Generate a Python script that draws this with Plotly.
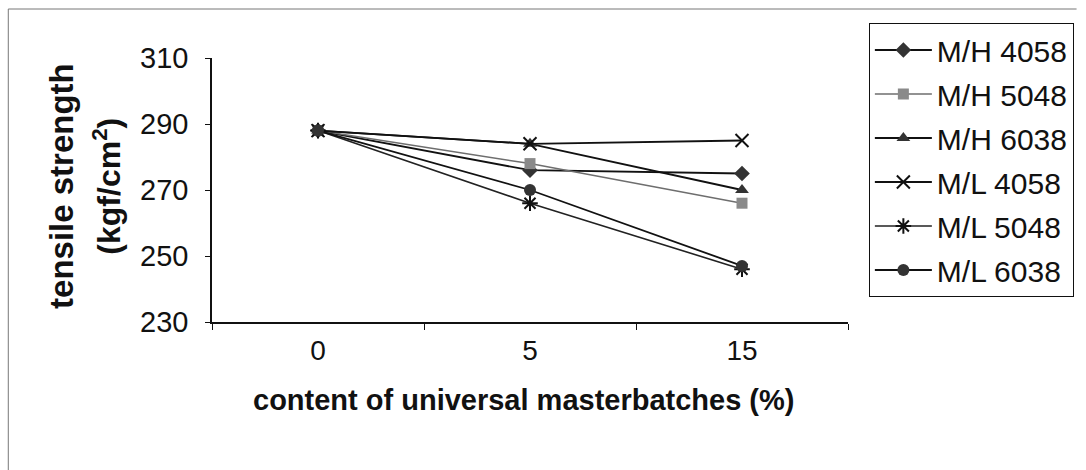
import plotly.graph_objects as go

# Masterbatch content (%) on the category axis
content = ["0", "5", "15"]

# Tensile strength (kgf/cm^2) for each compound
mh_4058 = [288, 276, 275]
mh_5048 = [288, 278, 266]
mh_6038 = [288, 284, 270]
ml_4058 = [288, 284, 285]
ml_5048 = [288, 266, 246]
ml_6038 = [288, 270, 247]

y_ticks = [230, 250, 270, 290, 310]

FONT = "Liberation Sans, Arial, sans-serif"

series = [
    ("M/H 4058", mh_4058, dict(symbol="diamond", size=12, color="#333333"), dict(color="#111111", width=1.8)),
    ("M/H 5048", mh_5048, dict(symbol="square", size=11, color="#8a8a8a"), dict(color="#6e6e6e", width=1.5)),
    ("M/H 6038", mh_6038, dict(symbol="triangle-up", size=12, color="#333333"), dict(color="#111111", width=1.8)),
    ("M/L 4058", ml_4058, dict(symbol="x-thin-open", size=13, color="#111111", line=dict(width=2, color="#111111")), dict(color="#111111", width=1.8)),
    ("M/L 5048", ml_5048, dict(symbol="asterisk-open", size=13, color="#111111", line=dict(width=2, color="#111111")), dict(color="#222222", width=1.6)),
    ("M/L 6038", ml_6038, dict(symbol="circle", size=12, color="#333333"), dict(color="#111111", width=1.8)),
]

fig = go.Figure()
for name, vals, marker, line in series:
    fig.add_trace(go.Scatter(
        x=content, y=vals, name=name, mode="lines+markers",
        marker=marker, line=line, legendgroup=name,
    ))

# Plot area spans x 212..852 and y 58..322 px
L, R, T, B = 212, 852, 58, 322
W, H = 1086, 470

def px_x(px):
    return (px - L) / (R - L)

def px_y(py):
    return (B - py) / (B - T)

fig.update_layout(
    width=W, height=H,
    margin=dict(l=L, r=W - R, t=T, b=H - B),
    paper_bgcolor="white", plot_bgcolor="white",
    font=dict(family=FONT, size=29, color="#111111"),
    showlegend=True,
    legend=dict(
        x=px_x(873), y=px_y(23), xanchor="left", yanchor="top",
        bgcolor="white", bordercolor="#111111", borderwidth=1,
        font=dict(family=FONT, size=30, color="#111111"),
        tracegroupgap=2, itemwidth=57, maxheight=400,
    ),
    xaxis=dict(
        type="category", range=[-0.5, 2.5], showgrid=False, zeroline=False,
        showline=True, linecolor="#111111", linewidth=1.5,
        ticks="outside", tickson="boundaries", ticklen=6, tickcolor="#111111",
        tickfont=dict(family=FONT, size=28, color="#111111"),
        ticklabelstandoff=3,
    ),
    yaxis=dict(
        range=[230, 310], tickvals=y_ticks, showgrid=False, zeroline=False,
        showline=True, linecolor="#111111", linewidth=1.5,
        ticks="outside", ticklen=5, tickcolor="#111111",
        tickfont=dict(family=FONT, size=29, color="#111111"),
        ticklabelstandoff=11,
    ),
)

# Axis titles
fig.add_annotation(
    x=px_x(525), y=px_y(400), xref="paper", yref="paper",
    xanchor="center", yanchor="middle",
    text="<b>content of universal masterbatches (%)</b>", showarrow=False,
    font=dict(family=FONT, size=29, color="#111111"),
)
fig.add_annotation(
    x=px_x(60), y=px_y(186), xref="paper", yref="paper",
    xanchor="center", yanchor="middle",
    text="<b>tensile strength</b>", showarrow=False, textangle=-90,
    font=dict(family=FONT, size=33, color="#111111"),
)
fig.add_annotation(
    x=px_x(106), y=px_y(186), xref="paper", yref="paper",
    xanchor="center", yanchor="middle",
    text="<b>(kgf/cm<sup>2</sup>)</b>", showarrow=False, textangle=-90,
    font=dict(family=FONT, size=32, color="#111111"),
)

# Outer chart frame (left and top edges)
fig.add_shape(type="line", xref="paper", yref="paper",
              x0=px_x(7), x1=px_x(7), y0=px_y(9), y1=px_y(470),
              line=dict(color="#777777", width=1))
fig.add_shape(type="line", xref="paper", yref="paper",
              x0=px_x(7), x1=px_x(1082), y0=px_y(9), y1=px_y(9),
              line=dict(color="#777777", width=1))

fig.write_html("out.html")
